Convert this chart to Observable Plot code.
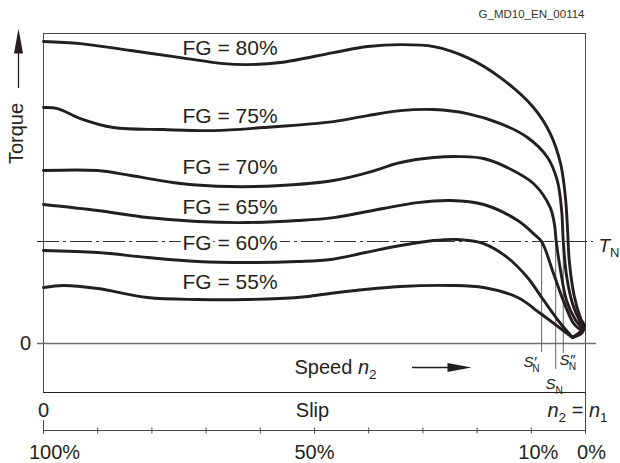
<!DOCTYPE html>
<html><head><meta charset="utf-8">
<script src="https://cdn.jsdelivr.net/npm/d3@7"></script>
<script src="https://cdn.jsdelivr.net/npm/@observablehq/plot@0.6"></script>
<style>
html,body{margin:0;padding:0;background:#fff;}
#chart svg{display:block;}
</style></head><body><div id="chart"></div>
<script>
// ---- data (speed n2 in % of n1, torque in % of nominal torque T_N) ----
const fgLabels = ["FG = 80%", "FG = 75%", "FG = 70%", "FG = 65%", "FG = 60%", "FG = 55%"];
const speed80  = [0, 6.8, 16.1, 25.3, 33.2, 37.6, 43.7, 53.5, 59.8, 65.9, 72.0, 78.2, 84.3, 90.4, 93.5, 95.4, 96.3, 96.7, 97.0, 97.9, 99.1, 99.8, 97.6];
const torque80 = [296.1, 294.1, 287.3, 280.4, 274.5, 273.5, 275.5, 285.3, 291.2, 293.1, 291.2, 280.4, 260.8, 231.4, 205.9, 176.5, 143.1, 110.8, 81.4, 47.1, 24.5, 16.7, 5.9];
const speed75  = [0, 2.6, 6.8, 12.9, 22.1, 31.4, 40.6, 53.5, 59.8, 65.9, 72.0, 78.2, 84.3, 89.3, 93.0, 94.8, 95.6, 95.9, 96.5, 97.6, 98.9, 99.8, 97.6];
const torque75 = [231.4, 230.4, 220.6, 211.8, 209.8, 208.8, 211.8, 217.6, 223.5, 228.4, 229.4, 225.5, 215.7, 202.0, 182.4, 159.8, 130.4, 100, 66.7, 39.2, 22.5, 14.7, 5.9];
const speed70  = [0, 10.0, 16.1, 25.3, 34.5, 43.7, 53.5, 59.8, 65.9, 72.0, 76.9, 81.2, 85.6, 90.4, 93.5, 94.3, 94.6, 95.4, 96.5, 98.2, 99.6, 97.6];
const torque70 = [169.6, 169.6, 164.7, 156.9, 153.9, 154.9, 159.8, 167.6, 177.5, 182.4, 183.3, 181.4, 172.5, 156.9, 133.3, 115.7, 100, 71.6, 42.2, 22.5, 12.7, 5.9];
const speed65  = [0, 10.0, 19.2, 28.4, 37.6, 46.9, 53.5, 62.7, 69.0, 75.1, 81.2, 87.5, 90.4, 91.9, 94.1, 95.9, 97.8, 99.4, 97.6];
const torque65 = [136.3, 130.4, 123.5, 119.6, 118.6, 120.6, 123.5, 132.4, 138.2, 140.2, 136.3, 120.6, 107.8, 100, 68.6, 42.2, 19.6, 10.8, 5.9];
const speed60  = [0, 10.0, 19.2, 28.4, 37.6, 46.9, 53.0, 59.4, 65.9, 72.0, 76.4, 81.2, 85.6, 89.3, 92.3, 95.4, 97.6];
const torque60 = [91.2, 89.2, 84.3, 80.4, 79.4, 80.4, 82.4, 89.2, 96.1, 101, 102, 98, 84.3, 64.7, 42.2, 19.6, 5.9];
const speed55  = [0, 3.7, 10.0, 19.2, 28.4, 37.6, 46.9, 55.0, 65.9, 75.1, 81.2, 87.5, 91.7, 95.4, 97.6];
const torque55 = [54.9, 56.9, 53.9, 45.1, 43.1, 43.1, 45.1, 50.5, 55.9, 56.9, 54.9, 45.1, 29.4, 14.7, 5.9];
const nominalTorque = 100;
const nominalSpeeds = [91.9, 94.5, 95.9];          // S'N, SN, S''N
const nominalLabels = ["S′N", "SN", "S″N"];
const slipTicks = [100, 90, 80, 70, 60, 50, 40, 30, 20, 10, 0];
const slipLabelValues = [100, 50, 10, 0];
const slipLabels = ["100%", "50%", "10%", "0%"];
const topTorque = 304;

// ---- build table ----
const series = [[speed80, torque80], [speed75, torque75], [speed70, torque70],
                [speed65, torque65], [speed60, torque60], [speed55, torque55]];
const rows = series.flatMap(([s, t], i) => s.map((v, j) => ({fg: fgLabels[i], speed: v, torque: t[j]})));

// ---- layout helpers (pixel positions -> scale units) ----
const X0 = 43, X1 = 585, Y0 = 343, YT = 33;
const px = p => (p - X0) / (X1 - X0) * 100;
const py = p => (Y0 - p) / (Y0 - YT) * topTorque;
const ink = "#231f20", frame = "#4a4a4a";
const font = "Liberation Sans, Arial, Helvetica, sans-serif";

const fgLabelY = [48, 116, 167, 207, 243, 282];
const fgRows = fgLabels.map((t, i) => ({text: t, y: py(fgLabelY[i])}));
const snRows = nominalSpeeds.map((s, i) => ({speed: s, bottom: py([352, 369, 353][i]),
  label: nominalLabels[i], lx: px([523, 545, 559][i]), ly: py([362, 384, 360][i])}));
const slipDx = [11, 0, 7, 6];

const richSpecs = {
  "TN": [{t: "T", it: 1}, {t: "N", sub: 1}],
  "S′N": [{t: "S", it: 1}, {t: "′", it: 1}, {t: "N", sub: 1, dx: -4}],
  "SN": [{t: "S", it: 1}, {t: "N", sub: 1}],
  "S″N": [{t: "S", it: 1}, {t: "″", it: 1}, {t: "N", sub: 1, dx: -6}],
  "Speed n2": [{t: "Speed "}, {t: "n", it: 1}, {t: "2", sub: 1}],
  "n2 = n1": [{t: "n", it: 1}, {t: "2", sub: 1}, {t: " = "}, {t: "n", it: 1}, {t: "1", sub: 1}]
};

const marks = [
  // frame and bottom boxes
  Plot.ruleY([topTorque], {x1: 0, x2: 100, stroke: frame, strokeWidth: 1}),
  Plot.ruleX([0], {y1: py(392), y2: topTorque, stroke: frame, strokeWidth: 1}),
  Plot.ruleX([100], {y1: py(433.5), y2: topTorque, stroke: frame, strokeWidth: 1}),
  Plot.ruleY([0], {x1: px(37), x2: px(596), stroke: "#6e6e6e", strokeWidth: 1.3}),
  Plot.ruleY([py(392)], {x1: 0, x2: 100, stroke: ink, strokeWidth: 1.1}),
  Plot.ruleY([py(430)], {x1: 0, x2: 100, stroke: frame, strokeWidth: 1}),
  Plot.ruleX(slipTicks, {x: d => 100 - d, y1: py(427.5), y2: py(433.5), stroke: frame, strokeWidth: 1}),
  Plot.ruleX([0], {y1: py(420), y2: py(433.5), stroke: frame, strokeWidth: 1}),
  // nominal torque line
  Plot.ruleY([nominalTorque], {x1: px(37), x2: px(593), stroke: "#333", strokeWidth: 1.1, strokeDasharray: "22,4,3,4"}),
  // nominal slip verticals
  Plot.ruleX(snRows, {x: "speed", y1: nominalTorque, y2: "bottom", stroke: "#555", strokeWidth: 0.9}),
  // curves
  Plot.line(rows, {x: "speed", y: "torque", z: "fg", curve: "catmull-rom", stroke: ink, strokeWidth: 2.9}),
  // FG labels
  Plot.text(fgRows, {x: px(182), y: "y", text: "text", textAnchor: "start", fontSize: 21, fill: ink,
    stroke: d => d.text === "FG = 60%" ? "white" : "none", strokeWidth: 7}),
  // torque axis label & arrow
  Plot.text(["Torque"], {x: px(16), y: py(133), rotate: -90, fontSize: 20, fill: ink}),
  Plot.ruleX([px(18)], {y1: py(88), y2: py(50), stroke: ink, strokeWidth: 1.3}),
  Plot.vector([0], {x: px(18), y: py(53), length: 25, r: 4.5, shape: "spike", anchor: "start", rotate: 0, fill: ink, stroke: "none"}),
  Plot.text(["0"], {x: px(25), y: 0, fontSize: 20, fill: ink}),
  Plot.text(["TN"], {x: px(598), y: py(245), textAnchor: "start", fontSize: 19, fill: ink, className: "rich"}),
  Plot.text(snRows, {x: "lx", y: "ly", text: "label", textAnchor: "start", fontSize: 15, fill: ink, className: "rich"}),
  // speed
  Plot.text(["Speed n2"], {x: px(294), y: py(367), textAnchor: "start", fontSize: 20, fill: ink, className: "rich"}),
  Plot.ruleY([py(367)], {x1: px(412), x2: px(449), stroke: ink, strokeWidth: 1.3}),
  Plot.vector([0], {x: px(447), y: py(367), length: 24, r: 4.5, shape: "spike", anchor: "start", rotate: 90, fill: ink, stroke: "none"}),
  // slip
  Plot.text(["0"], {x: 0, y: py(410), fontSize: 20, fill: ink}),
  Plot.text(["Slip"], {x: px(312), y: py(410), fontSize: 20, fill: ink}),
  Plot.text(["n2 = n1"], {x: px(577), y: py(410), fontSize: 20, fill: ink, className: "rich"}),
  ...slipLabels.map((t, i) => Plot.text([t], {x: 100 - slipLabelValues[i], y: py(452), dx: slipDx[i], fontSize: 20, fill: ink})),
  // code
  Plot.text(["G_MD10_EN_00114"], {x: px(584), y: py(14), textAnchor: "end", fontSize: 11.5, fill: "#333"})
];

const chart = Plot.plot({
  width: 620, height: 463, margin: 0,
  x: {domain: [0, 100], range: [X0, X1], axis: null},
  y: {domain: [0, topTorque], range: [Y0, YT], axis: null},
  style: {fontFamily: font, background: "white", overflow: "visible"},
  marks
});

function applyRich(svg) {
  svg.querySelectorAll("g.rich text").forEach(el => {
    const spec = richSpecs[el.textContent];
    if (!spec) return;
    el.textContent = "";
    let shift = 0;
    for (const s of spec) {
      const ts = document.createElementNS("http://www.w3.org/2000/svg", "tspan");
      ts.textContent = s.t;
      if (s.it) ts.setAttribute("font-style", "italic");
      const target = s.sub ? 5 : 0;
      if (target !== shift) { ts.setAttribute("dy", target - shift); shift = target; }
      if (s.sub) ts.setAttribute("font-size", "0.68em");
      if (s.dx) ts.setAttribute("dx", s.dx);
      el.appendChild(ts);
    }
  });
}
applyRich(chart);
document.getElementById("chart").appendChild(chart);
</script></body></html>
